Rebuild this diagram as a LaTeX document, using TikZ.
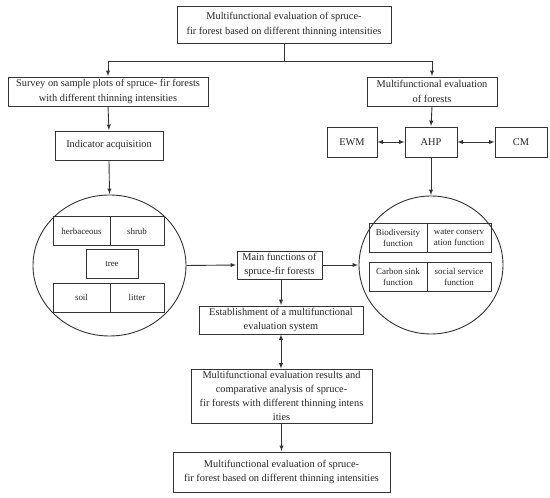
\documentclass[tikz,border=0pt]{standalone}
\usepackage{fontspec}
\setmainfont{Liberation Serif}
\usetikzlibrary{shapes.geometric}
\definecolor{strokecol}{rgb}{0.2,0.2,0.2}
\definecolor{textcol}{rgb}{0.15,0.15,0.15}
\begin{document}
\begin{tikzpicture}[>=latex,line join=bevel,
  box/.style={draw=strokecol,text=textcol,inner sep=0pt,align=center,font=\fontsize{10.4}{14.3}\selectfont},
  cell/.style={draw=strokecol,text=textcol,inner sep=0pt,align=center,minimum height=29bp,font=\fontsize{9}{11}\selectfont},
  ring/.style={draw=strokecol,ellipse,inner sep=0pt},
  link/.style={draw=strokecol,->,shorten >=0.5bp},
  both/.style={draw=strokecol,<->}]
  \pgfsetlinewidth{0.9bp}
  \useasboundingbox (0bp,0bp) rectangle (550bp,498bp);
%%
  % Node: top
  \node[box,minimum width=214bp,minimum height=37bp] (top) at (284bp,473.5bp) {Multifunctional evaluation of spruce-\\fir forest based on different thinning intensities};
  % Node: survey
  \node[box,minimum width=200bp,minimum height=29bp] (survey) at (108bp,406.5bp) {Survey on sample plots of spruce- fir forests\\with different thinning intensities};
  % Node: forests
  \node[box,minimum width=130bp,minimum height=29bp] (forests) at (432bp,406.5bp) {Multifunctional evaluation\\of forests};
  % Node: ewm
  \node[box,minimum width=50bp,minimum height=30bp] (ewm) at (352bp,356bp) {EWM};
  % Node: ahp
  \node[box,minimum width=52bp,minimum height=30bp] (ahp) at (431bp,356bp) {AHP};
  % Node: cm
  \node[box,minimum width=52bp,minimum height=30bp] (cm) at (521bp,356bp) {CM};
  % Node: indicator
  \node[box,minimum width=108bp,minimum height=29bp] (indicator) at (109bp,352.5bp) {Indicator acquisition};
  % Node: layers
  \node[ring,minimum width=153bp,minimum height=141bp] (layers) at (109.5bp,232.5bp) {};
  \node[cell,minimum width=57bp] (herb) at (81.5bp,267bp) {herbaceous};
  \node[cell,minimum width=54bp] (shrub) at (137bp,267bp) {shrub};
  \node[cell,minimum width=52bp] (tree) at (112bp,234bp) {tree};
  \node[cell,minimum width=57bp] (soil) at (81.5bp,200.5bp) {soil};
  \node[cell,minimum width=54bp] (litter) at (137bp,200.5bp) {litter};
  % Node: functions
  \node[ring,minimum width=144bp,minimum height=138bp] (functions) at (431bp,233bp) {};
  \node[cell,minimum width=58bp] (bio) at (398bp,260.5bp) {Biodiversity\\function};
  \node[cell,minimum width=64bp] (water) at (459bp,260.5bp) {water conserv\\ation function};
  \node[cell,minimum width=58bp] (carbon) at (398bp,221bp) {Carbon sink\\function};
  \node[cell,minimum width=64bp] (social) at (459bp,221bp) {social service\\function};
  % Node: main
  \node[box,minimum width=85bp,minimum height=28bp] (main) at (279.5bp,233bp) {Main functions of\\spruce-fir forests};
  % Node: system
  \node[box,minimum width=164bp,minimum height=28bp] (system) at (281bp,178bp) {Establishment of a multifunctional\\evaluation system};
  % Node: results
  \node[box,minimum width=181bp,minimum height=54bp] (results) at (281.5bp,102bp) {Multifunctional evaluation results and\\comparative analysis of spruce-\\fir forests with different thinning intens\\ities};
  % Node: bottom
  \node[box,minimum width=217bp,minimum height=40bp] (bottom) at (281.5bp,26bp) {Multifunctional evaluation of spruce-\\fir forest based on different thinning intensities};
%%
  % Edge: top -> survey
  \draw[link] (top.south) -- ++(0bp,-18bp) -| (survey.north);
  % Edge: top -> forests
  \draw[link] (top.south) -- ++(0bp,-18bp) -| (forests.north);
  % Edge: survey -> indicator
  \draw[link] (survey.south) -- (indicator.north);
  % Edge: forests -> ahp
  \draw[link] (forests.south) -- (ahp.north);
  % Edge: ewm <-> ahp
  \draw[both] (ewm) -- (ahp);
  % Edge: ahp <-> cm
  \draw[both] (ahp) -- (cm);
  % Edge: indicator -> layers
  \draw[link] (indicator.south) -- (layers.north);
  % Edge: ahp -> functions
  \draw[link] (ahp.south) -- (functions.north);
  % Edge: layers -> main
  \draw[link] (layers.east) -- (main.west);
  % Edge: main -> functions
  \draw[link] (main.east) -- (functions.west);
  % Edge: main -> system
  \draw[link] (main.south -| system.north) -- (system.north);
  % Edge: system <-> results
  \draw[both] (system.south) -- (system.south |- results.north);
  % Edge: results -> bottom
  \draw[link] (results.south -| bottom.north) -- (bottom.north);
%
\end{tikzpicture}
\end{document}
